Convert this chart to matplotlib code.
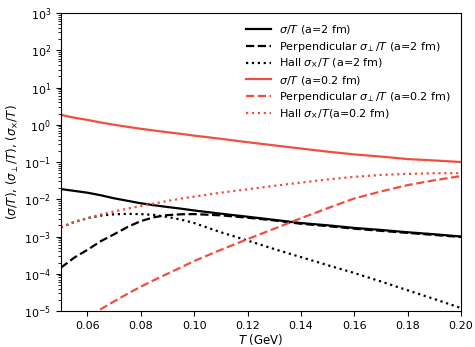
import matplotlib
matplotlib.use("Agg")
import matplotlib.pyplot as plt

T = [0.05, 0.055, 0.06, 0.065, 0.07, 0.075, 0.08, 0.085, 0.09, 0.095, 0.10,
     0.11, 0.12, 0.13, 0.14, 0.15, 0.16, 0.17, 0.18, 0.19, 0.20]

# a = 2 fm
sigma_a2 = [0.0188, 0.0168, 0.0150, 0.0128, 0.0106, 0.0091, 0.0078, 0.0069, 0.0062, 0.0056, 0.0050,
            0.0041, 0.0034, 0.0028, 0.0023, 0.0020, 0.0017, 0.0015, 0.0013, 0.00115, 0.0010]
perp_a2 = [1.45e-4, 2.7e-4, 4.4e-4, 7.5e-4, 1.15e-3, 1.8e-3, 2.6e-3, 3.3e-3, 3.75e-3, 3.95e-3, 4.0e-3,
           3.7e-3, 3.2e-3, 2.7e-3, 2.2e-3, 1.9e-3, 1.62e-3, 1.42e-3, 1.25e-3, 1.1e-3, 0.97e-3]
hall_a2 = [1.75e-3, 2.45e-3, 3.1e-3, 3.65e-3, 3.95e-3, 4.05e-3, 4.0e-3, 3.8e-3, 3.35e-3, 2.85e-3, 2.3e-3,
           1.3e-3, 7.8e-4, 4.6e-4, 2.8e-4, 1.7e-4, 1.05e-4, 6.2e-5, 3.6e-5, 2.1e-5, 1.2e-5]

# a = 0.2 fm
sigma_a02 = [1.85, 1.55, 1.35, 1.15, 1.0, 0.88, 0.78, 0.70, 0.63, 0.57, 0.51,
             0.42, 0.34, 0.28, 0.23, 0.19, 0.16, 0.14, 0.12, 0.11, 0.10]
perp_a02 = [2.2e-6, 4.0e-6, 6.8e-6, 1.12e-5, 1.82e-5, 2.9e-5, 4.5e-5, 6.8e-5, 1.0e-4, 1.48e-4, 2.2e-4,
            4.4e-4, 8.5e-4, 1.62e-3, 3.1e-3, 5.75e-3, 0.0105, 0.0162, 0.024, 0.0324, 0.042]
hall_a02 = [1.75e-3, 2.45e-3, 3.1e-3, 3.9e-3, 4.7e-3, 5.6e-3, 6.6e-3, 7.7e-3, 9.0e-3, 1.04e-2, 1.18e-2,
            0.0150, 0.0185, 0.023, 0.028, 0.034, 0.040, 0.045, 0.048, 0.050, 0.050]

labels = [r'$\sigma/T$ (a=2 fm)',
          r'Perpendicular $\sigma_\perp/T$ (a=2 fm)',
          r'Hall $\sigma_{\times}/T$ (a=2 fm)',
          r'$\sigma/T$ (a=0.2 fm)',
          r'Perpendicular $\sigma_\perp/T$ (a=0.2 fm)',
          r'Hall $\sigma_{\times}/T$(a=0.2 fm)']

red = '#f04e3e'

fig = plt.figure(figsize=(4.75, 3.47), dpi=100)
ax = fig.add_axes([0.128, 0.1037, 0.8425, 0.8588])

ax.plot(T, sigma_a2, color='black', ls='-', lw=1.6, label=labels[0])
ax.plot(T, perp_a2, color='black', ls='--', lw=1.6, label=labels[1])
ax.plot(T, hall_a2, color='black', ls=':', lw=1.6, label=labels[2])
ax.plot(T, sigma_a02, color=red, ls='-', lw=1.6, label=labels[3])
ax.plot(T, perp_a02, color=red, ls='--', lw=1.6, label=labels[4])
ax.plot(T, hall_a02, color=red, ls=':', lw=1.6, label=labels[5])

ax.set_yscale('log')
ax.set_xlim(0.05, 0.20)
ax.set_ylim(1e-5, 1e3)
ax.set_xticks([0.06, 0.08, 0.10, 0.12, 0.14, 0.16, 0.18, 0.20])
ax.set_xticklabels(['0.06', '0.08', '0.10', '0.12', '0.14', '0.16', '0.18', '0.20'])
ax.tick_params(labelsize=8)
ax.set_xlabel(r'$T$ (GeV)', fontsize=8.5, labelpad=1)
ax.set_ylabel(r'$(\sigma/T)$, $(\sigma_\perp/T)$, $(\sigma_{\times}/T)$', fontsize=8.5, labelpad=2)

ax.legend(loc='upper right', frameon=False, fontsize=8, handlelength=2.2,
          labelspacing=0.32, bbox_to_anchor=(1.0, 1.0))

fig.savefig('out.png', dpi=100)
